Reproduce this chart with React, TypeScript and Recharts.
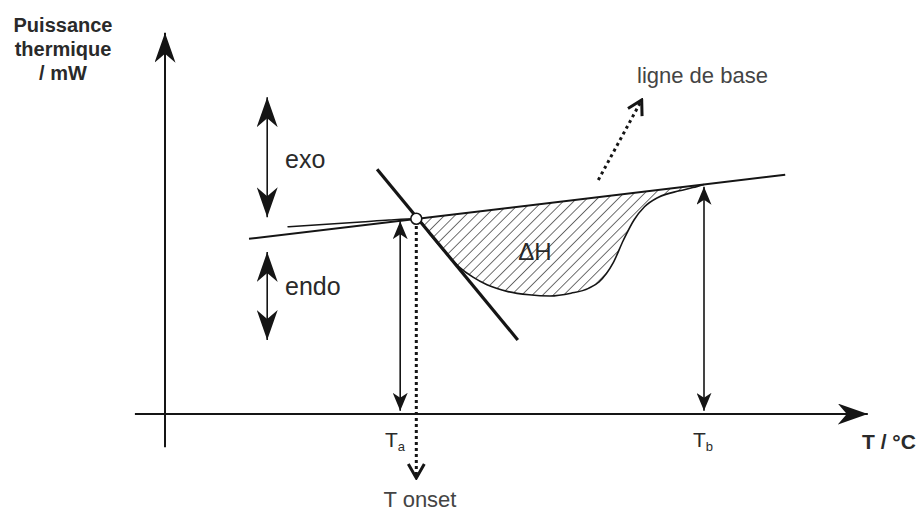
import React from 'react';
import {
  ComposedChart, Line, Area, XAxis, YAxis, ReferenceLine, ReferenceDot
} from 'recharts';

// DSC sketch, both axes in arbitrary units (T along x, heat flow P along y)
const baseT = [12, 88.6];
const baseP = [43.8, 59.8];

// measured signal: flat part, onset, endothermic dip, back to baseline at Tb
const curveT = [17.5, 22, 28, 32, 35.9, 38, 40, 42, 44, 46, 49, 52, 55, 58, 60.5, 62, 64, 65.5, 67, 68.5, 70.5, 73.5, 75.4, 77];
const curveP = [46.8, 47.3, 48, 48.5, 48.8, 44.6, 40.5, 36.8, 34.2, 32.3, 30.6, 29.8, 29.5, 30.2, 31.4, 33, 37.7, 43.5, 48.5, 51.8, 54.2, 55.8, 56.6, 57.4];

// baseline values read under the hatched part (onset -> Tb)
const hatchBaseP = [48.8, 49.2, 49.6, 50.1, 50.5, 50.9, 51.5, 52.2, 52.8, 53.4, 53.9, 54.2, 54.7, 55.0, 55.3, 55.6, 56.0, 56.7, 57.0, 57.4];

const tangentT = [30.3, 50.4];
const tangentP = [61.2, 18.5];

const onsetT = 35.9;
const onsetP = 48.8;
const Ta = 33.6;
const Tb = 77;

const toPoints = (xs: number[], ys: number[]) => xs.map((T, i) => ({ T, P: ys[i] }));

const baseData = toPoints(baseT, baseP);
const curveData = toPoints(curveT, curveP);
const tangentData = toPoints(tangentT, tangentP);
const bandData = hatchBaseP.map((b, i) => ({ T: curveT[i + 4], band: [curveP[i + 4], b] }));

const INK = '#151515';
const FONT = '"Liberation Sans", Arial, sans-serif';

const arrow = (opts: { width?: number; dash?: string; start?: string; end?: string }) =>
  (p: any) => (
    <line
      x1={p.x1} y1={p.y1} x2={p.x2} y2={p.y2}
      stroke={INK}
      strokeWidth={opts.width ?? 2}
      strokeDasharray={opts.dash}
      markerStart={opts.start ? `url(#${opts.start})` : undefined}
      markerEnd={opts.end ? `url(#${opts.end})` : undefined}
    />
  );

const App: React.FC = () => {
  return (
    <div style={{ position: 'absolute', left: 0, top: 0, width: 921, height: 512, background: '#fff' }}>
      <ComposedChart width={921} height={512} margin={{ top: 20, right: 21, bottom: 12, left: 102 }}>
        <defs>
          <pattern id="hatch" patternUnits="userSpaceOnUse" width="7.4" height="7.4" patternTransform="rotate(45)">
            <line x1="0" y1="0" x2="0" y2="7.4" stroke="#222" strokeWidth="1.3" />
          </pattern>
          <marker id="headL" viewBox="0 0 30 21" refX="30" refY="10.5" markerWidth="30" markerHeight="21"
            markerUnits="userSpaceOnUse" orient="auto-start-reverse">
            <path d="M30,10.5 L0,0 L9,10.5 L0,21 Z" fill={INK} />
          </marker>
          <marker id="headS" viewBox="0 0 18 15" refX="18" refY="7.5" markerWidth="18" markerHeight="15"
            markerUnits="userSpaceOnUse" orient="auto-start-reverse">
            <path d="M18,7.5 L0,0 L5,7.5 L0,15 Z" fill={INK} />
          </marker>
          <marker id="chev" viewBox="0 0 18 20" refX="16" refY="10" markerWidth="18" markerHeight="20"
            markerUnits="userSpaceOnUse" orient="auto">
            <path d="M2,2 L16,10 L2,18" fill="none" stroke={INK} strokeWidth="3" />
          </marker>
        </defs>

        <XAxis type="number" dataKey="T" domain={[-9, 105]} hide allowDataOverflow />
        <YAxis type="number" domain={[-21.5, 98.5]} hide allowDataOverflow />

        {/* axes */}
        <ReferenceLine segment={[{ x: -4.3, y: 0 }, { x: 100.4, y: 0 }]} shape={arrow({ end: 'headL' })} />
        <ReferenceLine segment={[{ x: 0, y: -8.3 }, { x: 0, y: 95.3 }]} shape={arrow({ end: 'headL' })} />

        <Area data={bandData} dataKey="band" type="monotone" stroke="none" fill="url(#hatch)" fillOpacity={1}
          isAnimationActive={false} />
        <Line data={baseData} dataKey="P" type="linear" stroke={INK} strokeWidth={2} dot={false} isAnimationActive={false} />
        <Line data={curveData} dataKey="P" type="monotone" stroke={INK} strokeWidth={1.6} dot={false} isAnimationActive={false} />
        <Line data={tangentData} dataKey="P" type="linear" stroke={INK} strokeWidth={3.2} dot={false} isAnimationActive={false} />

        {/* exo / endo */}
        <ReferenceLine segment={[{ x: 14.6, y: 79.2 }, { x: 14.6, y: 49.2 }]} shape={arrow({ width: 1.6, start: 'headL', end: 'headL' })} />
        <ReferenceLine segment={[{ x: 14.6, y: 40.5 }, { x: 14.6, y: 18.5 }]} shape={arrow({ width: 1.6, start: 'headL', end: 'headL' })} />

        {/* Ta, Tb */}
        <ReferenceLine segment={[{ x: Ta, y: 48.2 }, { x: Ta, y: 0.8 }]} shape={arrow({ width: 1.6, start: 'headS', end: 'headS' })} />
        <ReferenceLine segment={[{ x: Tb, y: 56.8 }, { x: Tb, y: 0.8 }]} shape={arrow({ width: 1.6, start: 'headS', end: 'headS' })} />

        {/* dotted pointers */}
        <ReferenceLine segment={[{ x: onsetT, y: 47 }, { x: onsetT, y: -16 }]} shape={arrow({ width: 3, dash: '3 3', end: 'chev' })} />
        <ReferenceLine segment={[{ x: 61.9, y: 58.5 }, { x: 68.1, y: 78.5 }]} shape={arrow({ width: 3, dash: '3 3.5', end: 'chev' })} />

        <ReferenceDot x={onsetT} y={onsetP} r={5.5} fill="#fff" stroke={INK} strokeWidth={1.6} />

        <g fontFamily={FONT} fill="#2a2a2a">
          <text x={63} y={32} textAnchor="middle" fontSize={20} fontWeight="bold">Puissance</text>
          <text x={63} y={56} textAnchor="middle" fontSize={20} fontWeight="bold">thermique</text>
          <text x={63} y={80} textAnchor="middle" fontSize={20} fontWeight="bold">/ mW</text>
          <text x={862} y={449} fontSize={21} fontWeight="bold">T / °C</text>
          <text x={285} y={168} fontSize={25}>exo</text>
          <text x={285} y={295} fontSize={25}>endo</text>
          <text x={535} y={260} textAnchor="middle" fontSize={24}>ΔH</text>
          <text x={637} y={83} fontSize={22} fill="#444">ligne de base</text>
          <text x={385} y={447} fontSize={21}>T<tspan fontSize={13} dy={4}>a</tspan></text>
          <text x={693} y={447} fontSize={21}>T<tspan fontSize={13} dy={4}>b</tspan></text>
          <text x={420} y={507} textAnchor="middle" fontSize={22} fill="#444">T onset</text>
        </g>
      </ComposedChart>
    </div>
  );
};

export default App;
